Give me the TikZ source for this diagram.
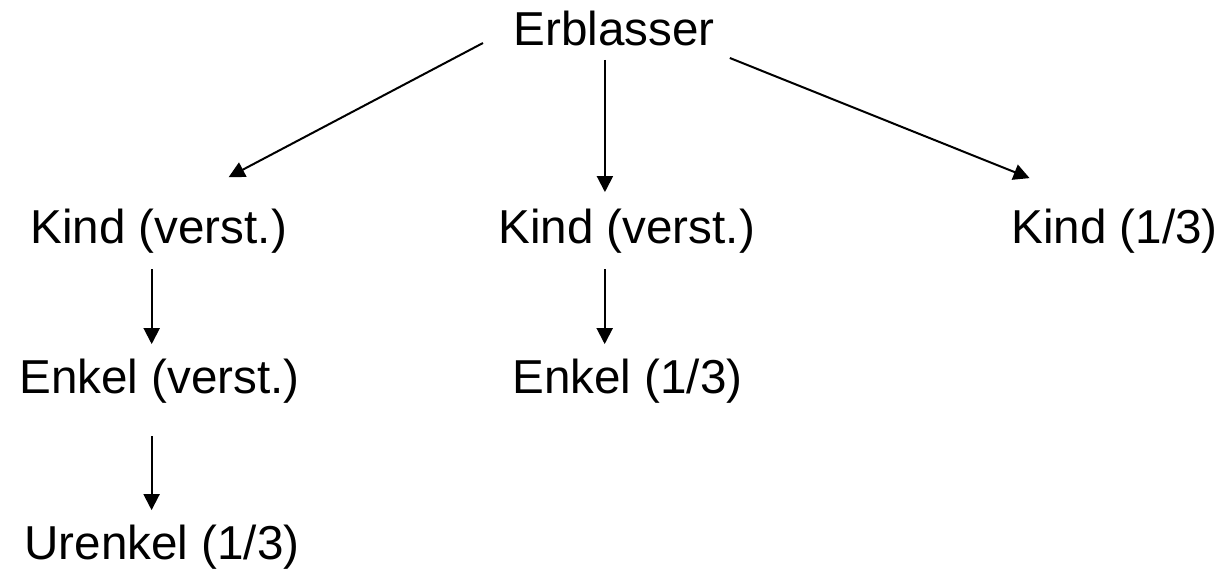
\documentclass[tikz,border=0pt]{standalone}
\usepackage{fontspec}
\setmainfont{Liberation Sans}
\usetikzlibrary{arrows.meta}
\begin{document}
\begin{tikzpicture}[x=0.5pt, y=-0.5pt,
    person/.style ={anchor=base west, inner sep=0pt, font=\fontsize{23.8}{28}\selectfont},
    line/.style ={line width=1pt, -{Triangle[length=8pt, width=8pt]}}]
   \useasboundingbox (0,0) rectangle (1217,569);
   \node[person] (E)  at (513,45)  {Erblasser};
   \node[person] (K1) at (30,243)  {Kind (verst.)};
   \node[person] (K2) at (498,243) {Kind (verst.)};
   \node[person] (K3) at (1011,243) {Kind (1/3)};
   \node[person] (N1) at (19,393)  {Enkel (verst.)};
   \node[person] (N2) at (512,393) {Enkel (1/3)};
   \node[person] (U1) at (24,559)  {Urenkel (1/3)};

   \draw[line] ([shift={(-30,15)}]E.west)  to ([shift={(70,-31)}]K1.north);
   \draw[line] ([shift={(-9,14)}]E.south)  to ([shift={(-9,-16)}]E.south |- K2.north);
   \draw[line] ([shift={(15,30)}]E.east)   to ([shift={(-85,-30)}]K3.north);
   \draw[line] ([shift={(-7,16)}]K1.south) to ([shift={(-7,-14)}]K1.south |- N1.north);
   \draw[line] ([shift={(-22,16)}]K2.south) to ([shift={(-22,-14)}]K2.south |- N2.north);
   \draw[line] ([shift={(-8,33)}]N1.south) to ([shift={(-8,-14)}]N1.south |- U1.north);
 \end{tikzpicture}
\end{document}
